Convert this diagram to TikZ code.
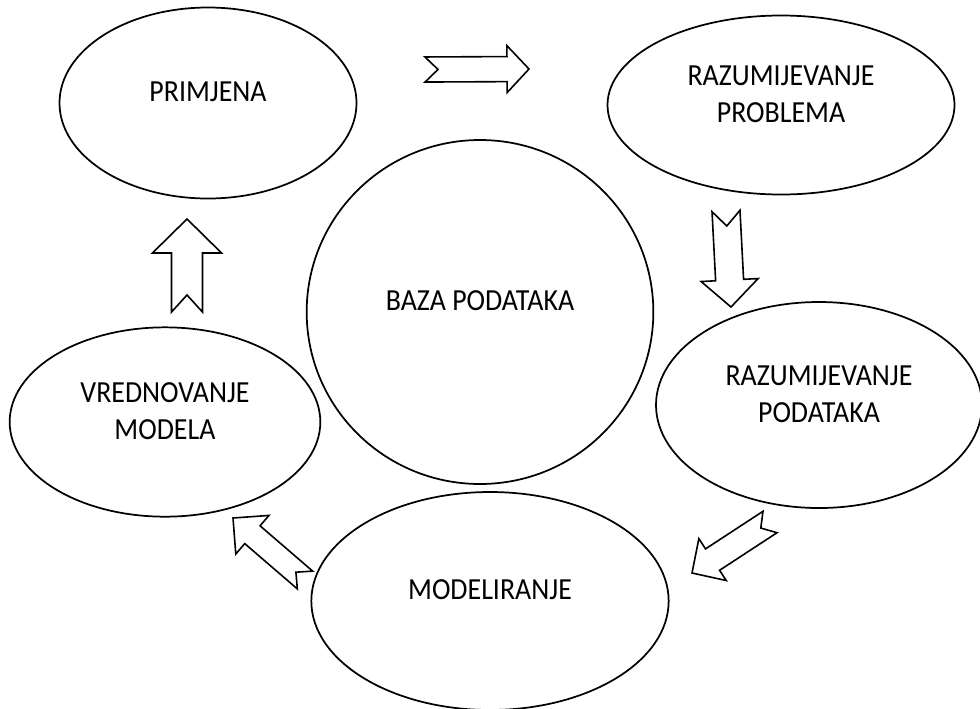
\documentclass[tikz,border=0pt]{standalone}
\usepackage{fontspec}
\setmainfont{Carlito}[FakeStretch=0.91]
\usepackage{tikz}
\usetikzlibrary{shapes.geometric, calc}
\tikzstyle{phase} = [ellipse, draw=black, line width=1.3pt, inner sep=0pt]
\tikzstyle{phasetext} = [align=center, yshift=8.25pt, font=\fontsize{23}{28}\selectfont]
\tikzstyle{flow} = [draw=black, line width=1.2pt, line join=miter, fill=white]
% notched block arrow: tail, tip, shaft half width, head half width, head length, notch depth
\newcommand{\blockarrow}[6]{%
  \coordinate (#1-base) at ($(#2)!#5!(#1)$);
  \draw [flow] ($(#1)!#3!90:(#2)$) -- ($(#1-base)!#3!90:(#2)$) -- ($(#1-base)!#4!90:(#2)$) -- (#2)
    -- ($(#1-base)!#4!-90:(#2)$) -- ($(#1-base)!#3!-90:(#2)$) -- ($(#1)!#3!-90:(#2)$) -- ($(#1)!#6!(#2)$) -- cycle;
}
\begin{document}
\begin{tikzpicture}[x=0.75pt, y=-0.75pt]
\useasboundingbox (0,0) rectangle (980,708);
\node (prim) [phase, minimum width=222.75pt, minimum height=143.25pt, label={[phasetext]center:PRIMJENA}] at (208,103) {};
\node (prob) [phase, minimum width=260.25pt, minimum height=134.25pt, label={[phasetext]center:RAZUMIJEVANJE\\PROBLEMA}] at (781,105) {};
\node (baza) [phase, minimum width=260pt, minimum height=258pt, label={[phasetext]center:BAZA PODATAKA}] at (480,312) {};
\node (poda) [phase, minimum width=244.5pt, minimum height=154.5pt, label={[phasetext]center:RAZUMIJEVANJE\\PODATAKA}] at (819,405) {};
\node (vred) [phase, minimum width=233pt, minimum height=142pt, label={[phasetext]center:VREDNOVANJE\\MODELA}] at (165,422) {};
\node (mode) [phase, minimum width=268pt, minimum height=163.5pt, label={[phasetext]center:MODELIRANJE}] at (490,601) {};
% arrow ends
\coordinate (s1) at (425,69.5);
\coordinate (e1) at (529,69);
\coordinate (s2) at (726,211);
\coordinate (e2) at (731,307);
\coordinate (s3) at (770,522);
\coordinate (e3) at (692,573);
\coordinate (s4) at (305,580);
\coordinate (e4) at (233,518);
\coordinate (s5) at (187,312);
\coordinate (e5) at (187,219);
\blockarrow{s1}{e1}{9.4pt}{17.6pt}{16.5pt}{9.75pt}
\blockarrow{s2}{e2}{10.5pt}{21.4pt}{20.25pt}{11.25pt}
\blockarrow{s3}{e3}{9.6pt}{18.75pt}{18.4pt}{8.25pt}
\blockarrow{s4}{e4}{8.8pt}{19.1pt}{19.2pt}{9pt}
\blockarrow{s5}{e5}{11.6pt}{25.9pt}{25.5pt}{12.75pt}
\end{tikzpicture}
\end{document}
